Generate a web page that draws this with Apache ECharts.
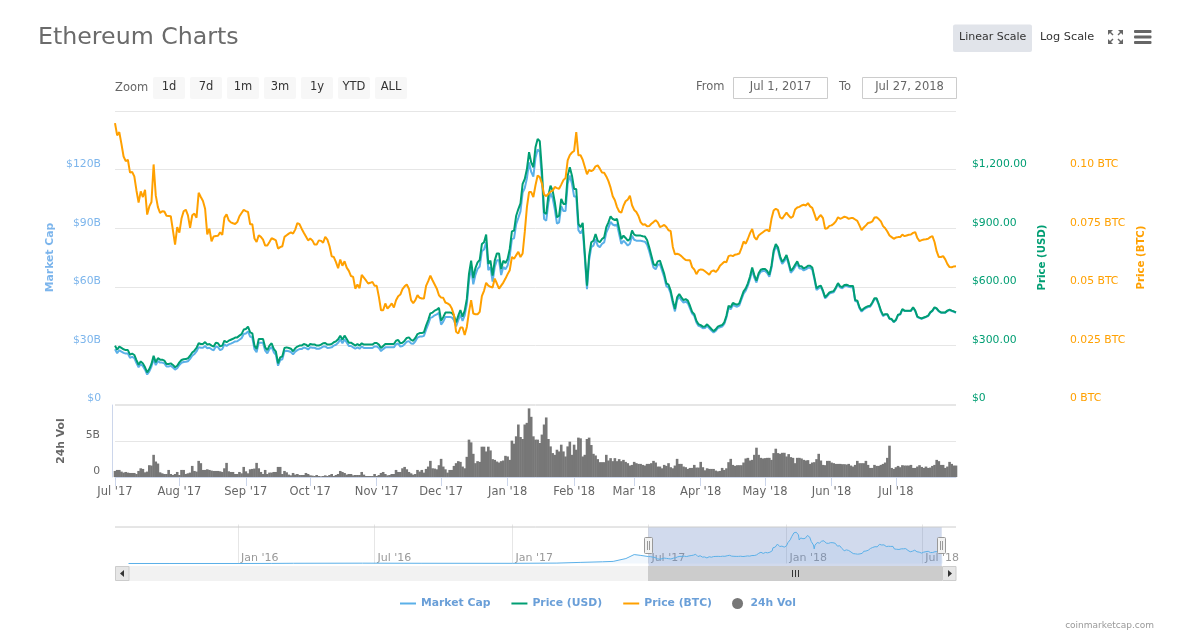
<!DOCTYPE html>
<html>
<head>
<meta charset="utf-8">
<title>Ethereum Charts</title>
<script src="https://cdn.jsdelivr.net/npm/echarts@6/dist/echarts.min.js"></script>
<style>
  html, body { margin: 0; padding: 0; background: #fff; }
  #chart { width: 1178px; height: 638px; }
</style>
</head>
<body>
<div id="chart"></div>
<script>
// daily values, first entry is Jul 2 '17
const marketCap = [
  28.0,26.0,27.5,26.8,26.2,25.8,25.8,23.7,24.1,23.5,21.0,18.8,20.4,19.4,17.6,15.1,16.7,19.2,23.1,19.9,
  22.0,21.2,21.2,20.8,19.2,19.2,19.5,18.7,17.6,18.3,20.0,21.1,21.5,21.6,21.9,23.1,24.7,25.6,26.9,29.1,
  28.8,28.8,29.7,28.5,28.8,28.0,27.5,29.4,29.1,27.6,28.1,30.5,29.7,30.5,30.9,31.4,32.0,32.1,32.9,33.7,
  35.8,36.1,37.2,34.5,34.0,28.1,26.5,31.3,31.3,31.3,27.3,25.9,28.1,29.2,26.5,25.2,19.6,22.5,22.9,27.0,
  27.3,27.0,26.6,25.4,26.8,27.6,28.1,28.1,28.9,28.6,27.9,29.0,28.8,28.8,28.3,28.3,28.7,29.4,29.5,28.7,
  28.8,29.0,29.9,30.3,31.3,33.1,31.1,33.1,31.5,29.7,29.7,29.0,28.3,29.0,28.3,29.4,28.7,28.7,28.7,28.7,
  28.7,29.5,29.5,28.7,27.1,28.1,29.0,29.0,29.0,29.0,29.0,30.6,31.0,29.4,29.7,30.6,31.9,32.2,31.0,
  30.8,32.1,34.0,34.5,34.5,34.9,38.1,40.9,44.1,44.5,45.4,45.9,46.7,40.6,42.2,44.5,44.6,44.6,44.3,42.9,
  39.7,42.9,45.7,42.5,45.4,51.1,63.3,69.7,61.3,66.1,69.2,70.4,78.2,79.1,82.8,68.5,70.1,62.7,70.1,73.6,
  73.6,66.0,70.1,69.0,70.9,75.8,84.4,84.8,92.1,95.3,98.6,108.2,110.6,115.5,123.7,118.8,116.4,126.1,130.3,129.1,
  115.3,94.7,93.9,103.0,107.9,105.4,99.7,92.3,93.0,101.3,98.8,98.8,112.8,117.0,112.8,106.2,106.2,89.0,87.3,89.5,
  74.5,58.8,73.7,80.3,81.1,84.4,81.1,80.3,82.0,82.7,87.8,90.2,93.2,91.9,91.4,91.9,86.9,82.0,83.6,82.5,
  81.1,82.0,86.1,84.1,83.6,83.6,83.6,83.3,83.1,81.5,78.2,74.1,69.9,69.0,71.2,71.6,68.3,64.9,60.3,59.6,
  56.6,51.6,47.4,53.2,54.9,53.2,51.9,52.4,51.6,49.0,46.3,45.1,41.7,40.0,39.6,38.8,38.9,40.0,38.8,37.6,
  36.6,37.4,38.8,39.3,39.6,41.0,44.3,49.3,48.5,50.7,50.2,49.8,50.5,53.5,56.5,58.0,60.6,64.0,68.5,64.7,
  62.2,65.9,67.7,68.1,68.1,67.1,65.2,69.7,77.3,80.7,79.0,74.5,71.7,73.1,75.2,71.4,67.2,68.4,70.2,71.9,
  69.4,69.4,68.4,68.9,69.7,69.7,68.9,63.8,58.3,59.3,60.0,57.4,54.1,55.2,56.5,56.9,57.2,59.1,61.3,59.6,
  59.3,60.3,60.5,60.0,59.8,59.8,52.7,52.4,49.0,47.3,48.4,49.1,49.6,49.8,51.5,53.6,53.6,50.7,47.3,45.0,
  45.8,45.8,43.6,43.3,41.9,42.9,45.5,45.8,48.4,47.6,47.6,47.6,47.6,49.3,47.6,44.5,44.0,43.6,44.1,44.5,
  45.0,46.7,47.6,49.3,48.7,47.4,46.7,46.7,46.7,47.6,48.1,47.6,47.2,46.7
];
const priceUsd = [
  299,278,294,287,280,276,276,253,258,251,225,201,218,208,188,162,179,205,247,213,
  235,227,227,222,205,205,208,200,188,196,213,225,229,230,234,247,264,273,287,311,
  307,307,317,304,307,299,294,314,311,295,299,324,316,324,329,334,340,341,350,358,
  381,384,396,367,362,299,282,333,333,333,290,276,299,311,282,268,208,239,244,287,
  290,287,283,270,285,294,299,299,307,304,295,307,305,305,299,299,304,311,312,304,
  305,307,316,321,331,350,329,350,333,314,314,307,299,307,299,311,304,304,304,304,
  304,312,312,304,287,297,307,307,307,307,307,324,328,311,314,324,338,341,328,
  324,338,358,363,363,367,401,430,464,468,478,483,492,427,444,468,469,469,466,452,
  418,452,481,447,478,538,666,734,645,696,725,737,819,828,867,717,734,657,734,771,
  771,691,734,722,742,794,884,888,964,998,1027,1127,1152,1203,1289,1237,1212,1314,1357,1345,
  1195,981,973,1067,1118,1092,1033,956,964,1050,1024,1024,1169,1212,1169,1101,1101,922,905,927,
  768,606,760,828,836,870,836,828,845,853,905,930,961,947,942,947,896,845,862,850,
  836,845,888,867,862,862,862,859,857,840,802,760,717,708,730,734,700,666,618,611,
  580,529,486,546,563,546,532,537,529,503,472,460,426,408,404,396,397,408,396,384,
  373,382,396,401,404,418,452,503,495,517,512,508,515,546,577,592,618,653,699,660,
  631,669,687,691,691,681,662,708,785,819,802,756,728,742,763,725,682,694,713,730,
  705,705,694,699,708,708,699,648,592,602,606,580,546,558,571,575,578,597,619,602,
  599,609,611,606,604,604,532,529,495,478,489,496,501,503,520,541,541,512,478,455,
  460,460,438,435,421,431,457,460,486,478,478,478,478,495,478,447,442,438,443,447,
  452,469,478,495,489,476,469,469,469,478,483,478,474,469
];
const priceBtc = [
  .1198,.1146,.1160,.1110,.1056,.1036,.1042,.0987,.0990,.0971,.0911,.0859,.0907,.0883,.0914,.0808,.0843,.0862,.1022,.0890,
  .0840,.0815,.0822,.0821,.0803,.0802,.0801,.0741,.0680,.0755,.0731,.0791,.0822,.0829,.0805,.0752,.0805,.0812,.0795,.0901,
  .0883,.0866,.0833,.0724,.0748,.0694,.0715,.0717,.0718,.0732,.0722,.0795,.0809,.0784,.0775,.0771,.0768,.0776,.0801,.0815,
  .0828,.0823,.0819,.0767,.0767,.0706,.0691,.0720,.0713,.0701,.0676,.0676,.0691,.0707,.0703,.0698,.0663,.0669,.0673,.0713,
  .0720,.0727,.0732,.0727,.0744,.0772,.0767,.0748,.0731,.0715,.0698,.0706,.0698,.0680,.0680,.0698,.0696,.0688,.0713,.0701,
  .0673,.0630,.0627,.0605,.0579,.0616,.0590,.0609,.0582,.0568,.0546,.0542,.0492,.0510,.0494,.0551,.0539,.0527,.0514,.0517,
  .0521,.0504,.0504,.0457,.0400,.0400,.0429,.0407,.0417,.0429,.0412,.0443,.0460,.0467,.0490,.0502,.0510,.0492,.0443,
  .0430,.0443,.0464,.0453,.0450,.0450,.0504,.0524,.0548,.0528,.0510,.0492,.0464,.0454,.0453,.0433,.0429,.0423,.0407,.0379,
  .0308,.0301,.0326,.0326,.0294,.0329,.0393,.0443,.0386,.0383,.0383,.0393,.0460,.0483,.0517,.0505,.0500,.0497,.0535,.0514,
  .0492,.0505,.0518,.0535,.0554,.0571,.0627,.0620,.0635,.0649,.0627,.0642,.0734,.0840,.0904,.0904,.0883,.0933,.0975,.0968,
  .0940,.0894,.0887,.0896,.0906,.0910,.0926,.0921,.0918,.0936,.0955,.0964,.1039,.1062,.1073,.1080,.1160,.1061,.1061,.1042,
  .1011,.0980,.0999,.0994,.0999,.1014,.1018,.1004,.0988,.0987,.0971,.0951,.0923,.0886,.0869,.0840,.0821,.0816,.0845,.0865,
  .0872,.0889,.0848,.0828,.0819,.0802,.0776,.0765,.0767,.0758,.0759,.0769,.0776,.0784,.0775,.0755,.0759,.0764,.0755,.0741,
  .0738,.0670,.0639,.0641,.0638,.0631,.0622,.0614,.0613,.0613,.0584,.0574,.0554,
  .0570,.0574,.0573,.0566,.0559,.0551,.0566,.0570,.0563,.0573,.0590,.0598,.0607,.0605,.0631,.0634,.0631,.0637,.0639,.0642,
  .0665,.0693,.0684,.0705,.0729,.0747,.0712,.0701,.0719,.0726,.0733,.0740,.0743,.0736,.0790,.0825,.0833,.0827,.0797,.0790,
  .0804,.0816,.0804,.0794,.0800,.0830,.0838,.0841,.0847,.0850,.0847,.0857,.0843,.0837,.0811,.0783,.0797,.0806,.0793,.0747,
  .0750,.0760,.0762,.0769,.0779,.0797,.0790,.0794,.0799,.0796,.0790,.0793,.0793,.0787,.0781,.0762,.0742,.0753,.0762,.0772,
  .0774,.0779,.0796,.0797,.0789,.0779,.0759,.0750,.0736,.0719,.0712,.0705,.0710,.0712,.0712,.0723,.0716,.0719,.0722,.0723,
  .0730,.0733,.0708,.0695,.0699,.0702,.0703,.0705,.0712,.0716,.0691,.0651,.0627,.0627,.0631,.0617,.0597,.0584,.0583,.0587,.0588
];
const volume = [
  .84,.98,.98,.75,.61,.70,.61,.56,.56,.56,.42,.84,1.21,1.12,.65,.75,1.64,1.59,3.08,2.15,
  1.87,.65,.51,.42,.42,.98,.42,.28,.42,.70,.28,.98,.98,.42,.51,.61,1.54,.84,.75,2.24,
  1.92,.98,.98,1.07,.98,.89,.84,.84,.84,.79,.70,1.21,1.96,.79,.70,.70,.42,.42,.70,.51,
  1.40,.79,.51,1.07,1.12,1.17,1.96,1.21,.70,.42,.98,.42,.61,.61,.70,.70,1.40,1.40,.42,.84,
  .65,.33,.23,.56,.33,.42,.28,.28,.28,.56,.42,.23,.19,.14,.28,.14,.09,.14,.23,.14,
  .28,.42,.14,.28,.42,.84,.70,.56,.33,.42,.42,.23,.28,.28,.28,.70,.33,.14,.14,.14,
  .14,.42,.14,.28,.56,.70,.42,.23,.28,.42,.42,.98,.70,
  .70,1.21,1.40,1.07,.70,.51,.33,.42,.98,.75,.98,.61,1.12,1.45,2.24,1.21,1.17,1.07,1.64,2.52,
  1.45,1.07,.61,.98,.98,1.54,1.92,2.20,2.10,1.45,1.21,2.80,5.19,4.81,3.22,1.92,2.20,2.10,4.21,4.21,
  3.55,4.21,3.69,2.48,2.38,2.15,2.01,2.20,2.29,2.94,2.85,2.38,5.05,4.63,5.65,7.29,5.56,5.28,7.29,7.52,
  9.53,8.36,5.65,5.19,5.19,4.72,5.89,7.29,8.27,5.28,4.25,3.32,3.08,3.79,3.55,4.49,3.55,2.85,4.25,4.91,
  3.08,4.49,3.79,5.47,5.37,2.85,3.08,5.28,5.47,4.44,3.22,2.99,2.48,2.06,2.06,2.06,3.08,2.29,2.62,2.20,
  2.62,2.20,2.48,2.20,2.38,2.10,1.92,1.59,1.68,2.10,1.92,1.82,1.82,1.68,1.59,1.82,1.82,1.92,2.24,2.01,
  1.45,1.45,1.21,1.68,1.54,1.92,1.36,1.21,1.59,2.52,1.82,1.82,1.45,1.36,
  1.12,1.26,1.26,1.68,1.31,1.31,2.10,1.36,.93,1.21,1.12,1.12,1.12,.89,.79,.84,1.26,.98,1.21,2.06,
  2.52,1.68,1.54,1.64,1.64,1.64,2.01,2.57,2.66,2.29,2.38,3.08,4.07,3.08,2.66,2.57,2.62,2.66,2.66,2.38,
  3.32,3.93,3.32,3.22,3.36,3.36,2.85,3.18,2.76,2.66,1.92,2.66,2.66,2.57,2.38,2.29,2.34,1.82,2.01,2.06,
  2.48,3.22,2.29,1.68,1.64,2.24,2.24,2.01,1.92,1.82,1.82,1.82,1.78,1.78,1.73,1.82,1.59,1.45,1.68,2.24,
  1.92,1.92,1.92,2.24,1.68,1.26,1.26,1.68,1.54,1.54,1.68,1.82,2.01,2.66,4.35,1.26,1.12,1.36,1.54,1.36,
  1.64,1.59,1.59,1.59,1.68,1.26,1.26,1.45,1.64,1.40,1.26,1.45,1.26,1.31,1.54,1.68,2.38,2.20,1.68,1.68,
  1.26,1.45,2.10,1.82,1.59,1.59
];

// market cap before the selected range, only for the navigator
const historyDates = ['2015/08/08','2015/10/01','2016/01/01','2016/02/15','2016/03/15','2016/06/15','2016/09/01','2017/01/01','2017/03/01','2017/04/01','2017/05/01','2017/05/15','2017/06/01','2017/06/12','2017/06/20','2017/07/01'];
const historyCap = [0.1,0.1,0.1,0.4,1.0,1.4,1.0,0.8,1.7,4.5,7,8.5,20,36,33,28];

const monthTickDates = ['2017/07/02','2017/08/01','2017/09/01','2017/10/01','2017/11/01','2017/12/01','2018/01/01','2018/02/01','2018/03/01','2018/04/01','2018/05/01','2018/06/01','2018/07/01'];
const monthTickLabels = ["Jul '17","Aug '17","Sep '17","Oct '17","Nov '17","Dec '17","Jan '18","Feb '18","Mar '18","Apr '18","May '18","Jun '18","Jul '18"];
const navTickDates = ['2016/01/01','2016/07/01','2017/01/01','2017/07/01','2018/01/01','2018/07/01'];
const navTickLabels = ["Jan '16","Jul '16","Jan '17","Jul '17","Jan '18","Jul '18"];
const capTickLabels = ['$0','$30B','$60B','$90B','$120B',''];
const usdTickLabels = ['$0','$300.00','$600.00','$900.00','$1,200.00',''];
const btcTickLabels = ['0 BTC','0.025 BTC','0.05 BTC','0.075 BTC','0.10 BTC',''];
const volTickLabels = ['0','5B',''];

const FONT = '"DejaVu Sans", sans-serif';
const CAP_COLOR = '#5bb0e8', USD_COLOR = '#009e73', BTC_COLOR = '#ffa000', VOL_COLOR = '#777777';
const GRID_LINE = '#e6e6e6', AXIS_LINE = '#ccd6eb';

const toTime = s => new Date(s).getTime();
const dayTimes = marketCap.map((_, i) => new Date(2017, 6, 2 + i).getTime());
const pairs = values => values.map((v, i) => [dayTimes[i], v]);
const monthTicks = monthTickDates.map(toTime);
const navTicks = navTickDates.map(toTime);
const navData = historyDates.map((d, i) => [toTime(d), historyCap[i]]).concat(pairs(marketCap));
const xMin = dayTimes[0], xMax = dayTimes[dayTimes.length - 1];

// header, range controls and scrollbar: plain shapes and text around the plot
function label(text, x, y, opt) {
  return {
    type: 'text', x: x, y: y, silent: true, z: 20,
    style: Object.assign({ text: text, font: '11.5px ' + FONT, fill: '#666', textVerticalAlign: 'middle', textAlign: 'left' }, opt)
  };
}
function box(x, y, w, h, fill, stroke, r) {
  return { type: 'rect', silent: true, z: 15, shape: { x: x, y: y, width: w, height: h, r: r || 0 }, style: { fill: fill, stroke: stroke || null, lineWidth: 1 } };
}
function seg(x1, y1, x2, y2, color, w) {
  return { type: 'line', silent: true, z: 16, shape: { x1: x1, y1: y1, x2: x2, y2: y2 }, style: { stroke: color, lineWidth: w || 1 } };
}
function tri(points, color) {
  return { type: 'polygon', silent: true, z: 16, shape: { points: points }, style: { fill: color } };
}

const zoomButtons = [['1d', 153], ['7d', 190], ['1m', 227], ['3m', 264], ['1y', 301], ['YTD', 338], ['ALL', 375]];
const graphics = [
  label('Ethereum Charts', 38, 38, { font: '23.7px ' + FONT, fill: '#6b6b6b' }),
  box(953, 24.5, 79, 27.5, '#e1e4ea', null, 2),
  label('Linear Scale', 959, 37.5, { fill: '#333', font: '11px ' + FONT }),
  label('Log Scale', 1040, 37.5, { fill: '#333', font: '11.3px ' + FONT }),
  box(1134, 30, 17.5, 3, '#666', null, 1),
  box(1134, 35.5, 17.5, 3, '#666', null, 1),
  box(1134, 41, 17.5, 3, '#666', null, 1),
  seg(1109, 31, 1113, 35, '#666', 1.5), seg(1122, 31, 1118, 35, '#666', 1.5),
  seg(1109, 43, 1113, 39, '#666', 1.5), seg(1122, 43, 1118, 39, '#666', 1.5),
  tri([[1108, 30], [1113, 30], [1108, 35]], '#666'), tri([[1123, 30], [1118, 30], [1123, 35]], '#666'),
  tri([[1108, 44], [1113, 44], [1108, 39]], '#666'), tri([[1123, 44], [1118, 44], [1123, 39]], '#666'),
  label('Zoom', 115, 88),
  label('From', 696, 87.5),
  box(733.5, 77.5, 94, 21, '#fff', '#cccccc'),
  label('Jul 1, 2017', 780.5, 87.5, { textAlign: 'center' }),
  label('To', 839, 87.5),
  box(862.5, 77.5, 94, 21, '#fff', '#cccccc'),
  label('Jul 27, 2018', 909.5, 87.5, { textAlign: 'center' }),
  seg(115, 527, 956, 527, '#cccccc'),
  // scrollbar
  box(129, 566, 813, 15, '#f2f2f2'),
  box(648, 566, 294, 15, '#cccccc'),
  box(115.5, 566.5, 13.5, 14, '#e6e6e6', '#cccccc'),
  box(942.5, 566.5, 13.5, 14, '#e6e6e6', '#cccccc'),
  tri([[124, 570], [124, 577], [120, 573.5]], '#333'),
  tri([[948, 570], [948, 577], [952, 573.5]], '#333'),
  seg(792.5, 570, 792.5, 577, '#333'), seg(795.5, 570, 795.5, 577, '#333'), seg(798.5, 570, 798.5, 577, '#333'),
  // navigator handles
  box(644.5, 537.5, 8, 16, '#f2f2f2', '#999999', 1),
  seg(647.5, 541, 647.5, 550, '#999'), seg(649.5, 541, 649.5, 550, '#999'),
  box(937.5, 537.5, 8, 16, '#f2f2f2', '#999999', 1),
  seg(940.5, 541, 940.5, 550, '#999'), seg(942.5, 541, 942.5, 550, '#999'),
  label('coinmarketcap.com', 1154, 626, { font: '9px ' + FONT, fill: '#999', textAlign: 'right' })
];
zoomButtons.forEach(b => {
  graphics.push(box(b[1], 77, 32, 22, '#f7f7f7', null, 2));
  graphics.push(label(b[0], b[1] + 16, 87.5, { fill: '#333', textAlign: 'center' }));
});

const chart = echarts.init(document.getElementById('chart'));
chart.setOption({
  animation: false,
  textStyle: { fontFamily: FONT },
  grid: [
    { left: 115, width: 841, top: 111, height: 293 },
    { left: 115, width: 841, top: 405, height: 72 },
    { left: 115, width: 841, top: 527, height: 39 }
  ],
  legend: {
    left: 394, top: 593, itemWidth: 16, itemHeight: 11, itemGap: 20,
    textStyle: { color: '#6a9fd8', fontWeight: 'bold', fontSize: 10.8, fontFamily: FONT },
    data: [
      { name: 'Market Cap', itemStyle: { opacity: 0 } },
      { name: 'Price (USD)', itemStyle: { opacity: 0 } },
      { name: 'Price (BTC)', itemStyle: { opacity: 0 } },
      { name: '24h Vol', icon: 'circle' }
    ]
  },
  xAxis: [
    { type: 'value', gridIndex: 0, min: xMin, max: xMax, show: false, splitLine: { show: false } },
    {
      type: 'value', gridIndex: 1, min: xMin, max: xMax,
      axisLine: { lineStyle: { color: AXIS_LINE } },
      axisTick: { length: 9, customValues: monthTicks, lineStyle: { color: AXIS_LINE } },
      axisLabel: {
        customValues: monthTicks, color: '#666', fontSize: 11.5, margin: 9, hideOverlap: false,
        formatter: v => monthTickLabels[monthTicks.indexOf(v)]
      },
      splitLine: { show: false }
    },
    {
      type: 'value', gridIndex: 2,
      min: new Date(2015, 6, 21).getTime(), max: new Date(2018, 7, 15).getTime(),
      axisLine: { show: false },
      axisTick: { inside: true, length: 39, customValues: navTicks, lineStyle: { color: GRID_LINE } },
      axisLabel: {
        customValues: navTicks, inside: true, color: '#999', fontSize: 11, margin: 2, align: 'left',
        padding: [0, 0, 0, 3], hideOverlap: false,
        formatter: v => navTickLabels[navTicks.indexOf(v)]
      },
      splitLine: { show: false }
    }
  ],
  yAxis: [
    {
      type: 'value', gridIndex: 0, min: 0, max: 150, interval: 30, position: 'left',
      name: 'Market Cap', nameLocation: 'middle', nameGap: 59,
      nameTextStyle: { color: '#7cb5ec', fontWeight: 'bold', fontSize: 10.8 },
      axisLine: { show: false }, axisTick: { show: false },
      axisLabel: { color: '#7cb5ec', fontSize: 10.8, margin: 14, verticalAlign: 'bottom', formatter: (v, i) => capTickLabels[i] },
      splitLine: { lineStyle: { color: GRID_LINE } }
    },
    {
      type: 'value', gridIndex: 0, min: 0, max: 1500, interval: 300, position: 'right',
      name: 'Price (USD)', nameLocation: 'middle', nameGap: 81,
      nameTextStyle: { color: USD_COLOR, fontWeight: 'bold', fontSize: 10.2 },
      axisLine: { show: false }, axisTick: { show: false },
      axisLabel: { color: USD_COLOR, fontSize: 10.8, margin: 16, verticalAlign: 'bottom', formatter: (v, i) => usdTickLabels[i] },
      splitLine: { show: false }
    },
    {
      type: 'value', gridIndex: 0, min: 0, max: 0.125, interval: 0.025, position: 'right', offset: 98,
      name: 'Price (BTC)', nameLocation: 'middle', nameGap: 82,
      nameTextStyle: { color: BTC_COLOR, fontWeight: 'bold', fontSize: 10.2 },
      axisLine: { show: false }, axisTick: { show: false },
      axisLabel: { color: BTC_COLOR, fontSize: 10.8, margin: 16, verticalAlign: 'bottom', formatter: (v, i) => btcTickLabels[i] },
      splitLine: { show: false }
    },
    {
      type: 'value', gridIndex: 1, min: 0, max: 10, interval: 5, position: 'left', offset: 3,
      name: '24h Vol', nameLocation: 'middle', nameGap: 45,
      nameTextStyle: { color: '#666', fontWeight: 'bold', fontSize: 10.8 },
      axisLine: { show: true, lineStyle: { color: AXIS_LINE } }, axisTick: { show: false },
      axisLabel: { color: '#666', fontSize: 10.8, margin: 12, verticalAlign: 'bottom', formatter: (v, i) => volTickLabels[i] },
      splitLine: { lineStyle: { color: GRID_LINE } }
    },
    { type: 'value', gridIndex: 2, min: -10, max: 147, show: false, splitLine: { show: false } }
  ],
  series: [
    {
      name: 'Market Cap', type: 'line', xAxisIndex: 0, yAxisIndex: 0, data: pairs(marketCap),
      symbol: 'none', lineStyle: { color: CAP_COLOR, width: 2 }, itemStyle: { color: CAP_COLOR }
    },
    {
      name: 'Price (USD)', type: 'line', xAxisIndex: 0, yAxisIndex: 1, data: pairs(priceUsd),
      symbol: 'none', lineStyle: { color: USD_COLOR, width: 2 }, itemStyle: { color: USD_COLOR }
    },
    {
      name: 'Price (BTC)', type: 'line', xAxisIndex: 0, yAxisIndex: 2, data: pairs(priceBtc),
      symbol: 'none', lineStyle: { color: BTC_COLOR, width: 2 }, itemStyle: { color: BTC_COLOR }
    },
    {
      name: '24h Vol', type: 'bar', xAxisIndex: 1, yAxisIndex: 3, data: pairs(volume),
      barWidth: 2.6, itemStyle: { color: VOL_COLOR }
    },
    {
      name: 'navigator', type: 'line', xAxisIndex: 2, yAxisIndex: 4, data: navData,
      symbol: 'none', lineStyle: { color: CAP_COLOR, width: 1 }, areaStyle: { color: 'rgba(124,181,236,0.15)' },
      markArea: {
        silent: true, itemStyle: { color: 'rgba(102,133,194,0.3)' },
        data: [[{ xAxis: toTime('2017/07/01') }, { xAxis: toTime('2018/07/27') }]]
      }
    }
  ],
  graphic: graphics
});
window.addEventListener('resize', () => chart.resize());
</script>
</body>
</html>
